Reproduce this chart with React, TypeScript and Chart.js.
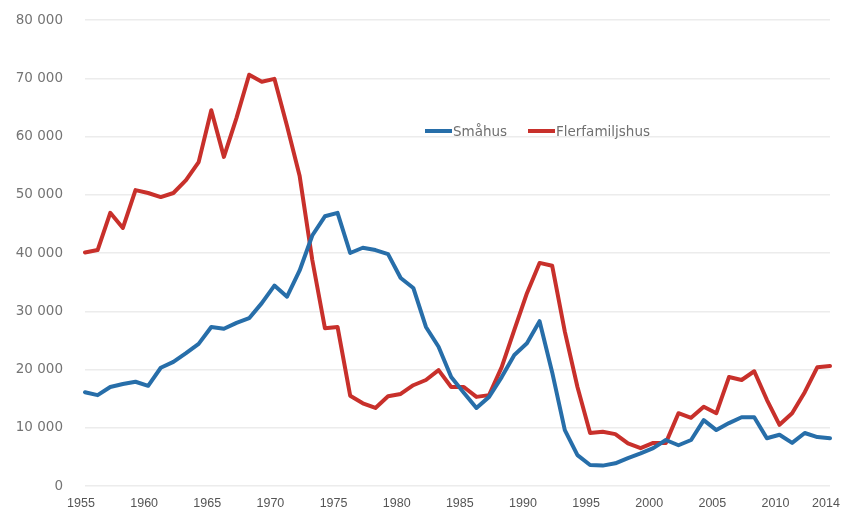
import React, { useEffect, useRef } from "react";
import { Chart, registerables } from "chart.js";

Chart.register(...registerables);

const years: number[] = [];
for (let y = 1955; y <= 2014; y++) years.push(y);

const xTickLabels = [1955, 1960, 1965, 1970, 1975, 1980, 1985, 1990, 1995, 2000, 2005, 2010, 2014];
const yTickValues = [0, 10000, 20000, 30000, 40000, 50000, 60000, 70000, 80000];

const smahus = [
  16100, 15600, 17000, 17500, 17900, 17200, 20300, 21300, 22800, 24400,
  27300, 27000, 28000, 28800, 31400, 34400, 32500, 37000, 43000, 46300,
  46900, 40000, 40900, 40500, 39800, 35700, 34000, 27300, 23900, 18700,
  16000, 13400, 15300, 18700, 22500, 24500, 28300, 19500, 9600, 5300,
  3600, 3500, 3900, 4800, 5600, 6500, 7900, 7000, 7900, 11300,
  9600, 10800, 11800, 11800, 8200, 8800, 7400, 9100, 8400, 8200,
];

const flerfamiljshus = [
  40100, 40500, 46900, 44300, 50800, 50300, 49600, 50300, 52500, 55600,
  64500, 56500, 63200, 70600, 69400, 69900, 61800, 53200, 38800, 27100,
  27300, 15500, 14200, 13400, 15400, 15800, 17300, 18200, 19900, 17000,
  17000, 15300, 15600, 20400, 26800, 33100, 38300, 37800, 26500, 17000,
  9100, 9300, 8900, 7300, 6500, 7400, 7400, 12500, 11700, 13600,
  12500, 18700, 18200, 19700, 14800, 10500, 12500, 16100, 20400, 20600,
];

const seriesNames = ["Småhus", "Flerfamiljshus"];
const BLUE = "#276ea9";
const RED = "#c8302b";

function fmt(v: number): string {
  if (v === 0) return "0";
  const s = String(Math.round(v));
  return s.slice(0, s.length - 3) + " " + s.slice(s.length - 3);
}

const legendPlugin = {
  id: "innerLegend",
  afterDraw(chart: any) {
    const ctx = chart.ctx;
    const items = [
      { label: seriesNames[0], color: BLUE, x: 425 },
      { label: seriesNames[1], color: RED, x: 528 },
    ];
    const y = 131;
    ctx.save();
    ctx.font = "13.5px 'DejaVu Sans', sans-serif";
    ctx.textBaseline = "middle";
    ctx.textAlign = "left";
    for (const it of items) {
      ctx.strokeStyle = it.color;
      ctx.lineWidth = 4;
      ctx.lineCap = "butt";
      ctx.beginPath();
      ctx.moveTo(it.x, y);
      ctx.lineTo(it.x + 27, y);
      ctx.stroke();
      ctx.fillStyle = "#707070";
      ctx.fillText(it.label, it.x + 28, y + 1);
    }
    ctx.restore();
  },
};

export default function App() {
  const ref = useRef<HTMLCanvasElement | null>(null);

  useEffect(() => {
    document.body.style.margin = "0";
    document.body.style.background = "#ffffff";
    const canvas = ref.current;
    if (!canvas) return;
    const chart = new Chart(canvas, {
      type: "line",
      data: {
        labels: years.map(String),
        datasets: [
          {
            label: seriesNames[0],
            data: smahus,
            borderColor: BLUE,
            backgroundColor: BLUE,
            borderWidth: 4,
            pointRadius: 0,
            tension: 0,
            borderJoinStyle: "round",
            borderCapStyle: "round",
          },
          {
            label: seriesNames[1],
            data: flerfamiljshus,
            borderColor: RED,
            backgroundColor: RED,
            borderWidth: 4,
            pointRadius: 0,
            tension: 0,
            borderJoinStyle: "round",
            borderCapStyle: "round",
          },
        ],
      },
      options: {
        responsive: false,
        animation: false,
        layout: { padding: { top: 20, right: 22, left: 0, bottom: 0 } },
        plugins: {
          legend: { display: false },
          tooltip: { enabled: false },
        },
        scales: {
          x: {
            type: "category",
            offset: false,
            grid: { display: false, drawTicks: false },
            border: { display: false },
            ticks: {
              autoSkip: false,
              maxRotation: 0,
              padding: 10,
              labelOffset: -4,
              color: "#555555",
              font: { family: "'Liberation Sans', Arial, sans-serif", size: 12.5 },
              callback: function (this: any, _v: any, idx: number) {
                const yr = years[idx];
                return xTickLabels.includes(yr) ? String(yr) : "";
              },
            },
            afterFit: (scale: any) => {
              scale.height = 28;
              scale.paddingLeft = 0;
              scale.paddingRight = 0;
            },
          },
          y: {
            min: 0,
            max: 80000,
            grid: { color: "#ececec", lineWidth: 1.5, drawTicks: false },
            border: { display: false },
            afterBuildTicks: (scale: any) => {
              scale.ticks = yTickValues.map((v) => ({ value: v }));
            },
            ticks: {
              padding: 22,
              color: "#747474",
              font: { family: "'DejaVu Sans', sans-serif", size: 13.5 },
              callback: (v: any) => fmt(Number(v)),
            },
            afterFit: (scale: any) => {
              scale.width = 85;
              scale.paddingTop = 0;
              scale.paddingBottom = 0;
            },
          },
        },
      },
      plugins: [legendPlugin],
    });
    return () => chart.destroy();
  }, []);

  return (
    <div style={{ width: 852, height: 514, background: "#fff" }}>
      <canvas ref={ref} width={852} height={514} style={{ display: "block" }} />
    </div>
  );
}
